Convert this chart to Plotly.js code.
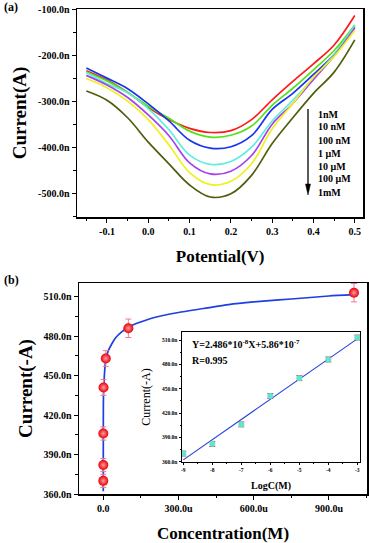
<!DOCTYPE html>
<html>
<head>
<meta charset="utf-8">
<script src="https://cdn.plot.ly/plotly-3.0.1.min.js"></script>
<style>html,body{margin:0;padding:0;background:#fff;}#chart{width:369px;height:543px;}</style>
</head>
<body>
<div id="chart"></div>
<script>
// ---------- panel (a): DPV curves ----------
const potential = [-0.15,-0.1,-0.05,0,0.05,0.1,0.15,0.2,0.25,0.3,0.35,0.4,0.45,0.5];
const curve1nM   = [-234,-254,-281,-314,-340,-359,-368,-364,-340,-297,-257,-219,-178,-114];
const curve10nM  = [-236,-256,-281,-311,-337,-365,-378,-374,-354,-309,-272,-232,-190,-135];
const curve100nM = [-228,-250,-273,-306,-343,-385,-402,-399,-375,-318,-283,-242,-199,-138];
const curve1uM   = [-238,-262,-282,-316,-362,-417,-437,-431,-400,-343,-298,-250,-199,-136];
const curve10uM  = [-244,-265,-292,-330,-375,-434,-458,-452,-418,-350,-305,-253,-202,-141];
const curve100uM = [-251,-271,-300,-340,-395,-455,-481,-474,-436,-360,-305,-248,-203,-146];
const curve1mM   = [-278,-298,-336,-389,-436,-482,-508,-501,-461,-392,-336,-283,-237,-167];
const concLabels = ["1nM","10 nM","100 nM","1 \u03bcM","10 \u03bcM","100 \u03bcM","1mM"];
const curveColors = ["#ff1a1a","#55e01a","#1a33ee","#5eeedd","#a443ee","#f0f01a","#4e5e0c"];

const aXTickVals = [-0.1,0,0.1,0.2,0.3,0.4,0.5];
const aXTickText = ["-0.1","0.0","0.1","0.2","0.3","0.4","0.5"];
const aYTickVals = [-500,-400,-300,-200,-100];
const aYTickText = ["-500.0n","-400.0n","-300.0n","-200.0n","-100.0n"];

// ---------- panel (b): calibration ----------
const concentration = [1e-9,1e-8,1e-7,1e-6,1e-5,1e-4,1e-3];
const logC = [-9,-8,-7,-6,-5,-4,-3];
const currentNeg = [370,382,406,441,463,486,513];
const currentErr = [5,5,5,6,6,7,7];
const insetErr = [3,3,3,3,3,3,3];
const fitConc = [1e-9,1e-8,1e-7,1e-6,1e-5,2e-5,5e-5,1e-4,2e-4,3e-4,4e-4,5e-4,6e-4,7e-4,8e-4,9e-4,1e-3];
const fitCurrent = [362,387,412,437,462,469,479,487,494,498,501,504,506,507.5,509,510.5,511.5];
const fitLogC = [-9,-3];
const fitLinear = [362.3,511.4];

const bXTickVals = [0,3e-4,6e-4,9e-4];
const bXTickText = ["0.0","300.0u","600.0u","900.0u"];
const bYTickVals = [360,390,420,450,480,510];
const bYTickText = ["360.0n","390.0n","420.0n","450.0n","480.0n","510.0n"];
const insetXTickVals = [-9,-8,-7,-6,-5,-4,-3];
const insetXTickText = ["-9","-8","-7","-6","-5","-4","-3"];

const SERIF = "Liberation Serif, Times New Roman, serif";
const W = 369, H = 543;
const px = v => v / W;
const py = v => 1 - v / H;

const traces = [];
const curves = [curve1nM,curve10nM,curve100nM,curve1uM,curve10uM,curve100uM,curve1mM];
curves.forEach((c,i) => traces.push({
  x: potential, y: c, type: 'scatter', mode: 'lines', xaxis: 'x', yaxis: 'y',
  line: {color: curveColors[i], width: 1.7, shape: 'spline', smoothing: 1}, name: concLabels[i]
}));
traces.push({x: fitConc, y: fitCurrent, type:'scatter', mode:'lines', xaxis:'x2', yaxis:'y2',
  line:{color:'#1f3fe0', width:1.7, shape:'spline', smoothing:0.6}});
traces.push({x: concentration, y: currentNeg, type:'scatter', mode:'markers', xaxis:'x2', yaxis:'y2',
  marker:{color:'#e8000a', size:10, gradient:{type:'radial', color:'#ff9a9a'}, line:{width:0}},
  error_y:{type:'data', array: currentErr, visible:true, color:'#f07a90', thickness:1, width:3}});
traces.push({x: fitLogC, y: fitLinear, type:'scatter', mode:'lines', xaxis:'x3', yaxis:'y3',
  line:{color:'#1f3fe0', width:1.1}});
traces.push({x: logC, y: currentNeg, type:'scatter', mode:'markers', xaxis:'x3', yaxis:'y3',
  marker:{color:'#5ee6cf', size:6, line:{width:0}},
  error_y:{type:'data', array: insetErr, visible:true, color:'#e0304a', thickness:1, width:3}});

function axisBase(extra){
  return Object.assign({
    showline:true, linecolor:'#000', linewidth:1.5, mirror:true,
    ticks:'outside', ticklen:4, tickwidth:1, tickcolor:'#000',
    showgrid:false, zeroline:false, tickmode:'array',
    tickfont:{family:SERIF, size:10, color:'#000', weight:700}
  }, extra);
}
const titleFont = {family:SERIF, size:17, color:'#000', weight:700};

const layout = {
  width: W, height: H, margin:{l:0,r:0,t:0,b:0},
  paper_bgcolor:'#fff', plot_bgcolor:'#fff', showlegend:false,
  font:{family:SERIF, color:'#000'},
  xaxis: axisBase({domain:[px(77),px(363.3)], anchor:'y', range:[-0.1726,0.5206],
    tickvals:aXTickVals, ticktext:aXTickText,
    minor:{tickmode:'linear', tick0:-0.15, dtick:0.1, ticks:'outside', ticklen:2.5, tickcolor:'#000'},
    title:{text:'Potential(V)', font:titleFont, standoff:14}}),
  yaxis: axisBase({domain:[py(217),py(9)], anchor:'x', range:[-551.4,-100],
    tickvals:aYTickVals, ticktext:aYTickText,
    minor:{tickmode:'linear', tick0:-550, dtick:100, ticks:'outside', ticklen:2.5, tickcolor:'#000'},
    title:{text:'Current(A)', font:Object.assign({}, titleFont, {size:19}), standoff:6}}),
  xaxis2: axisBase({domain:[px(79),px(367)], anchor:'y2', range:[-9.69e-5,1.0518e-3],
    tickvals:bXTickVals, ticktext:bXTickText,
    minor:{tickmode:'linear', tick0:1.5e-4, dtick:3e-4, ticks:'outside', ticklen:2.5, tickcolor:'#000'},
    title:{text:'Concentration(M)', font:titleFont, standoff:14}}),
  yaxis2: axisBase({domain:[py(494),py(283)], anchor:'x2', range:[360,520.4],
    tickvals:bYTickVals, ticktext:bYTickText,
    minor:{tickmode:'linear', tick0:375, dtick:30, ticks:'outside', ticklen:2.5, tickcolor:'#000'},
    title:{text:'Current(-A)', font:Object.assign({}, titleFont, {size:19}), standoff:6}}),
  xaxis3: axisBase({domain:[px(182),px(360)], anchor:'y3', range:[-9.045,-2.907],
    tickvals:insetXTickVals, ticktext:insetXTickText, ticklen:2.5, linewidth:1,
    tickfont:{family:SERIF, size:5.5, color:'#000', weight:700},
    minor:{tickmode:'linear', tick0:-8.5, dtick:1, ticks:'outside', ticklen:1.5, tickcolor:'#000'},
    title:{text:'LogC(M)', font:{family:SERIF, size:10, color:'#000', weight:700}, standoff:10}}),
  yaxis3: axisBase({domain:[py(461.7),py(332.3)], anchor:'x3', range:[360,519.5],
    tickvals:bYTickVals, ticktext:bYTickText, ticklen:2.5, linewidth:1,
    tickfont:{family:SERIF, size:5.5, color:'#000', weight:700},
    minor:{tickmode:'linear', tick0:375, dtick:30, ticks:'outside', ticklen:1.5, tickcolor:'#000'},
    title:{text:'Current(-A)', font:{family:SERIF, size:12, color:'#000'}, standoff:8}}),
  annotations: [],
  shapes: []
};

const labelYs = [114,127,140,153,166,179,192];
concLabels.forEach((t,i) => layout.annotations.push({
  xref:'paper', yref:'paper', x:px(316), y:py(labelYs[i]), xanchor:'left', yanchor:'middle',
  text:t, showarrow:false, font:{family:SERIF, size:10, color:'#000', weight:700}
}));
// downward arrow beside the concentration list
layout.shapes.push({type:'line', xref:'paper', yref:'paper', x0:px(308), x1:px(308), y0:py(109), y1:py(186),
  line:{color:'#000', width:1.3}});
layout.shapes.push({type:'path', xref:'paper', yref:'paper',
  path:'M '+px(305.5)+' '+py(184)+' L '+px(310.5)+' '+py(184)+' L '+px(308)+' '+py(195)+' Z',
  fillcolor:'#000', line:{color:'#000', width:0.5}});
layout.annotations.push({xref:'paper', yref:'paper', x:px(2), y:py(7), xanchor:'left', yanchor:'middle',
  text:'(a)', showarrow:false, font:{family:SERIF, size:12, color:'#000', weight:700}});
layout.annotations.push({xref:'paper', yref:'paper', x:px(2), y:py(280), xanchor:'left', yanchor:'middle',
  text:'(b)', showarrow:false, font:{family:SERIF, size:12, color:'#000', weight:700}});
layout.annotations.push({xref:'paper', yref:'paper', x:px(190), y:py(344), xanchor:'left', yanchor:'middle',
  text:'Y=2.486*10<sup>-8</sup>X+5.86*10<sup>-7</sup>', showarrow:false,
  font:{family:SERIF, size:10, color:'#000', weight:700}});
layout.annotations.push({xref:'paper', yref:'paper', x:px(190), y:py(360), xanchor:'left', yanchor:'middle',
  text:'R=0.995', showarrow:false, font:{family:SERIF, size:10, color:'#000', weight:700}});

Plotly.newPlot('chart', traces, layout, {staticPlot:true, displayModeBar:false});
</script>
</body>
</html>
